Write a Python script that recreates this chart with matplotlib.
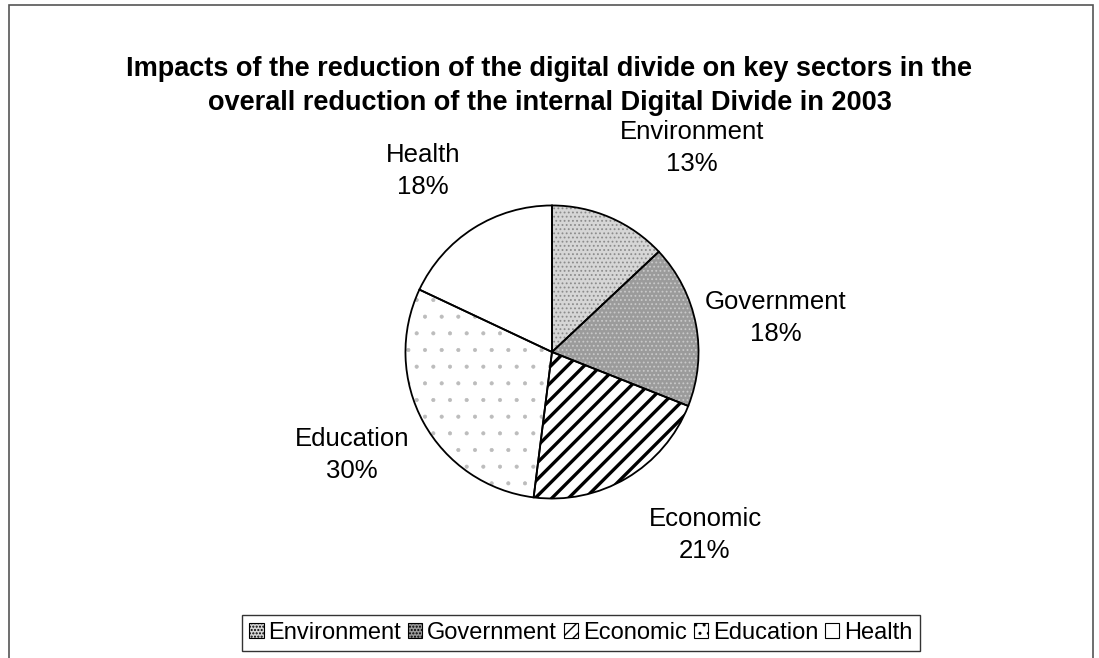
import matplotlib.pyplot as plt
from matplotlib.patches import Rectangle, Patch

plt.rcParams['font.family'] = ['Liberation Sans', 'DejaVu Sans']
plt.rcParams['hatch.linewidth'] = 1.0

sectors = ['Environment', 'Government', 'Economic', 'Education', 'Health']
shares = [13, 18, 21, 30, 18]
fills = ['#d6d6d6', '#9b9b9b', 'white', 'white', 'white']
hatches = ['....', '....', '//', '.', '']
hatch_cols = ['#8c8c8c', '#c9c9c9', 'black', '#bcbcbc', 'black']
hatch_lws = [0.8, 0.8, 2.4, 0.5, 1.0]

# label positions in pixels (centre of the two-line label)
label_px = {'Environment': (692, 148), 'Government': (776, 318),
            'Economic': (705, 535), 'Education': (352, 455), 'Health': (423, 171)}

W, H = 1099, 658
fig = plt.figure(figsize=(W / 100, H / 100), dpi=100)

cx, cy, r = 552, 352, 148
ax = fig.add_axes([(cx - r) / W, (H - cy - r) / H, 2 * r / W, 2 * r / H])

# fill + pattern layer
wedges, _ = ax.pie(shares, startangle=90, counterclock=False, radius=1,
                   colors=fills, wedgeprops=dict(linewidth=0))
for w, h, hc, hl in zip(wedges, hatches, hatch_cols, hatch_lws):
    w.set_hatch(h)
    w.set_edgecolor(hc)
    if hasattr(w, 'set_hatch_linewidth'):
        w.set_hatch_linewidth(hl)
# outline layer
ax.pie(shares, startangle=90, counterclock=False, radius=1,
       colors=['none'] * 5, wedgeprops=dict(linewidth=1.3, edgecolor='black'))
ax.set_xlim(-1.01, 1.01)
ax.set_ylim(-1.01, 1.01)
ax.set_aspect('equal')
ax.axis('off')

for name, val in zip(sectors, shares):
    x, y = label_px[name]
    fig.text(x / W, 1 - y / H, f'{name}\n{val}%', ha='center', va='center',
             fontsize=18.5, linespacing=1.45)

fig.text(0.5, 1 - 86 / H,
         'Impacts of the reduction of the digital divide on key sectors in the\n'
         'overall reduction of the internal Digital Divide in 2003',
         ha='center', va='center', fontsize=19.5, fontweight='bold', linespacing=1.38)

# outer chart frame
fig.add_artist(Rectangle((9 / W, -0.1), (1093 - 9) / W, 1.1 - 5 / H,
                         transform=fig.transFigure, fill=False,
                         edgecolor='#555555', linewidth=1.2))

handles = []
for f, h in zip(fills, ['.....', '.....', '///', '..', '']):
    handles.append(Patch(facecolor=f, hatch=h, edgecolor='black', linewidth=0.8))
leg = fig.legend(handles, sectors, loc='center', bbox_to_anchor=(581 / W, 1 - 633 / H),
                 ncol=5, fontsize=17, frameon=True, fancybox=False,
                 edgecolor='black', handlelength=0.6, handleheight=0.6,
                 handletextpad=0.2, columnspacing=0.3, borderpad=0.3,
                 borderaxespad=0)
leg.get_frame().set_linewidth(1.0)

fig.savefig('out.png', dpi=100, facecolor='white')
